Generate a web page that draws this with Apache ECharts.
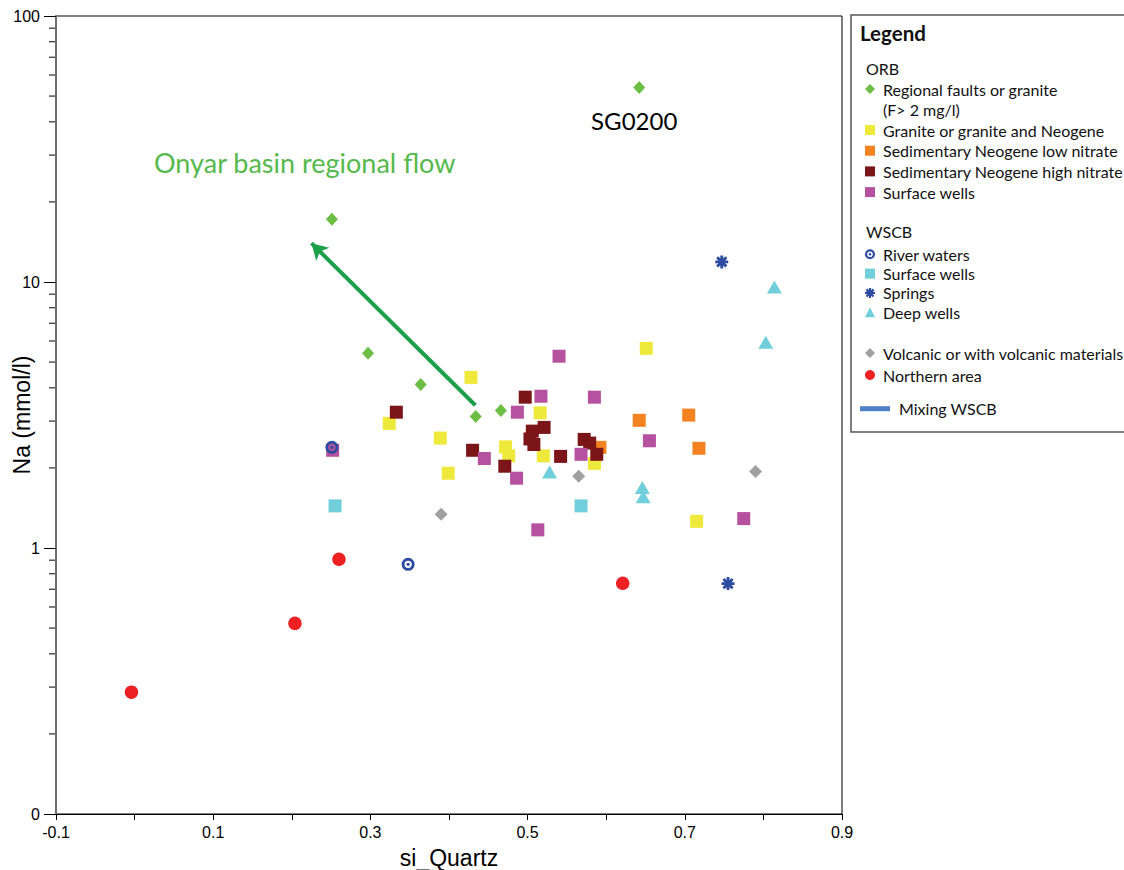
<!DOCTYPE html>
<html>
<head>
<meta charset="utf-8">
<title>Na vs si_Quartz</title>
<script src="https://cdn.jsdelivr.net/npm/echarts@6/dist/echarts.min.js"></script>
<style>
  html, body { margin: 0; padding: 0; background: #fff; }
  #chart { width: 1124px; height: 870px; }
</style>
</head>
<body>
<div id="chart"></div>
<script>
// Samples: [si_Quartz, Na (mmol/l)]
const regionalFaults = [[0.642, 53.8], [0.251, 17.2], [0.297, 5.40], [0.364, 4.12], [0.434, 3.12], [0.466, 3.29]];
const graniteNeogene = [[0.324, 2.94], [0.389, 2.59], [0.399, 1.91], [0.428, 4.38], [0.472, 2.40], [0.476, 2.22],
                        [0.516, 3.22], [0.520, 2.22], [0.585, 2.08], [0.651, 5.63], [0.715, 1.26]];
const sedLowNitrate = [[0.592, 2.39], [0.642, 3.02], [0.705, 3.16], [0.718, 2.37]];
const sedHighNitrate = [[0.333, 3.24], [0.430, 2.33], [0.471, 2.03], [0.497, 3.69], [0.521, 2.84], [0.506, 2.75],
                        [0.503, 2.57], [0.508, 2.45], [0.542, 2.21], [0.572, 2.56], [0.579, 2.48], [0.588, 2.25]];
const orbSurfaceWells = [[0.252, 2.33], [0.445, 2.17], [0.486, 1.83], [0.487, 3.24], [0.517, 3.72], [0.540, 5.26],
                         [0.585, 3.69], [0.568, 2.25], [0.655, 2.53], [0.513, 1.17], [0.775, 1.29]];
const riverWaters = [[0.251, 2.39], [0.348, 0.868]];
const wscbSurfaceWells = [[0.255, 1.44], [0.568, 1.44]];
const springs = [[0.747, 11.9], [0.755, 0.735]];
const deepWells = [[0.528, 1.93], [0.646, 1.69], [0.647, 1.56], [0.803, 5.93], [0.814, 9.58]];
const volcanic = [[0.390, 1.34], [0.565, 1.86], [0.790, 1.94]];
const northernArea = [[-0.004, 0.287], [0.204, 0.521], [0.260, 0.907], [0.621, 0.737]];

// Sample named on the chart (index into regionalFaults)
const namedSample = { index: 0, name: 'SG0200' };

// Regional flow direction arrow: from tail to head
const flowArrow = [[0.4335, 3.44], [0.225, 14.0]];

// Axis ticks
const xTickMin = -0.1, xTickMax = 0.9, xTickStep = 0.1;
const yMajorTicks = [0.1, 1, 10, 100];
const yMajorLabels = ['0', '1', '10', '100'];
const yMinorTicks = [0.2, 0.3, 0.4, 0.5, 0.6, 0.7, 0.8, 0.9, 2, 3, 4, 5, 6, 7, 8, 9, 20, 30, 40, 50, 60, 70, 80, 90];

// Custom marker shapes
const ringDotPath = 'path://M0,50 A50,50 0 1,1 100,50 A50,50 0 1,1 0,50 Z ' +
  'M22,50 A28,28 0 1,0 78,50 A28,28 0 1,0 22,50 Z ' +
  'M37,50 A13,13 0 1,1 63,50 A13,13 0 1,1 37,50 Z';
const asteriskPath = 'path://M0,39 L100,39 L100,61 L0,61 Z M39,0 L61,0 L61,100 L39,100 Z ' +
  'M22.42,6.86 L93.14,77.58 L77.58,93.14 L6.86,22.42 Z ' +
  'M77.58,6.86 L93.14,22.42 L22.42,93.14 L6.86,77.58 Z';

const AXIS_FONT = '"Liberation Sans", Arial, sans-serif';
const TEXT_FONT = 'Lato, "Open Sans", sans-serif';

function scatter(name, data, symbol, size, color) {
  return {
    name, type: 'scatter', data, symbol, symbolSize: size,
    itemStyle: { color, opacity: 1 }, emphasis: { disabled: true }, z: 3
  };
}

const regionalData = regionalFaults.map((p, i) => i === namedSample.index ? {
  value: p,
  label: {
    show: true, formatter: namedSample.name, position: 'bottom', distance: 14, offset: [-5, 0],
    fontFamily: TEXT_FONT, fontSize: 24, color: '#000'
  }
} : p);

const series = [
  Object.assign(scatter('Regional faults or granite', regionalData, 'diamond', [12, 13], '#6dbe45'), {
    markLine: {
      silent: true,
      symbol: ['none', 'arrow'],
      symbolSize: [14, 16],
      label: { show: false },
      lineStyle: { color: '#1ea04b', width: 4, type: 'solid' },
      emphasis: { disabled: true },
      data: [[{ coord: flowArrow[0] }, { coord: flowArrow[1] }]]
    }
  }),
  scatter('Granite or granite and Neogene', graniteNeogene, 'rect', 13, '#efe93c'),
  scatter('Sedimentary Neogene low nitrate', sedLowNitrate, 'rect', 13, '#f58220'),
  scatter('Sedimentary Neogene high nitrate', sedHighNitrate, 'rect', 13, '#7b1518'),
  scatter('Surface wells (ORB)', orbSurfaceWells, 'rect', 13, '#b5519e'),
  scatter('Surface wells (WSCB)', wscbSurfaceWells, 'rect', 13, '#71cedb'),
  scatter('River waters', riverWaters, ringDotPath, 13, '#2d4ba0'),
  scatter('Springs', springs, asteriskPath, 13, '#2d4ba0'),
  scatter('Deep wells', deepWells, 'triangle', [15, 13], '#71cedb'),
  scatter('Volcanic or with volcanic materials', volcanic, 'diamond', 13, '#a0a0a0'),
  scatter('Northern area', northernArea, 'circle', 13.5, '#ed2024'),
  {
    name: 'Mixing WSCB', type: 'line', data: [], showSymbol: false,
    itemStyle: { color: '#4f81c7' }, lineStyle: { color: '#4f81c7', width: 5 }
  },
  {
    // minor ticks of the log axis at 2..9 within each decade
    type: 'custom', silent: true, clip: false, z: 5,
    data: yMinorTicks.map(v => [xTickMin, v]),
    renderItem: (params, api) => {
      const p = api.coord([api.value(0), api.value(1)]);
      return {
        type: 'line',
        shape: { x1: p[0] - 7, y1: p[1], x2: p[0] - 1, y2: p[1] },
        style: { stroke: '#000', lineWidth: 1 }
      };
    }
  }
];

const legendText = { fontFamily: TEXT_FONT, fontSize: 16, color: '#111', lineHeight: 16, padding: [0, 0, 0, 3] };
const stripGroup = n => n.replace(/ \((ORB|WSCB)\)$/, '');
function legendBlock(names, top, gap, extra) {
  return Object.assign({
    orient: 'vertical', left: 865, top, itemGap: gap, padding: 0,
    itemWidth: 10, itemHeight: 10, selectedMode: false,
    data: names, formatter: stripGroup, textStyle: legendText
  }, extra || {});
}

const headerStyle = (text, size, weight) => ({
  text, fontFamily: TEXT_FONT, fontSize: size, fontWeight: weight || 'normal', fill: '#111',
  align: 'left', verticalAlign: 'middle', textAlign: 'left', textVerticalAlign: 'middle'
});

const option = {
  backgroundColor: '#fff',
  animation: false,
  grid: {
    left: 56, top: 16, width: 786, height: 798,
    show: true, borderColor: '#000', borderWidth: 1, backgroundColor: 'transparent',
    containLabel: false, outerBoundsMode: 'none'
  },
  xAxis: {
    type: 'value', min: xTickMin, max: xTickMax, interval: xTickStep,
    name: 'si_Quartz', nameLocation: 'middle', nameGap: 32, nameMoveOverlap: false,
    nameTextStyle: { fontFamily: AXIS_FONT, fontSize: 23, color: '#000' },
    axisLine: { onZero: false, lineStyle: { color: '#000', width: 1 } },
    axisTick: { inside: false, length: 6, lineStyle: { color: '#000' } },
    axisLabel: {
      margin: 10, fontFamily: AXIS_FONT, fontSize: 16, color: '#000', hideOverlap: false,
      formatter: v => {
        const k = Math.round(v / xTickStep);
        return Math.abs(k) % 2 === 1 ? (k * xTickStep).toFixed(1) : '';
      }
    },
    splitLine: { show: false }
  },
  yAxis: {
    type: 'log', logBase: 10, min: yMajorTicks[0], max: yMajorTicks[yMajorTicks.length - 1], splitNumber: 3,
    name: 'Na (mmol/l)', nameLocation: 'middle', nameGap: 23, nameMoveOverlap: false,
    nameTextStyle: { fontFamily: AXIS_FONT, fontSize: 23, color: '#000' },
    axisLine: { onZero: false, lineStyle: { color: '#6e6e6e', width: 2 } },
    axisTick: { inside: false, length: 12, lineStyle: { color: '#000', width: 1 } },
    minorTick: { show: false },
    axisLabel: {
      margin: 16, fontFamily: AXIS_FONT, fontSize: 16, color: '#000', hideOverlap: false,
      formatter: v => {
        const i = yMajorTicks.findIndex(t => Math.abs(Math.log10(t) - Math.log10(v)) < 1e-6);
        return i >= 0 ? yMajorLabels[i] : '';
      }
    },
    splitLine: { show: false }
  },
  legend: [
    legendBlock(['Regional faults or granite'], 81, 0),
    legendBlock(['Granite or granite and Neogene', 'Sedimentary Neogene low nitrate',
                 'Sedimentary Neogene high nitrate', 'Surface wells (ORB)'], 122, 4.7),
    legendBlock(['River waters', 'Surface wells (WSCB)', 'Springs', 'Deep wells'], 246.3, 3.3),
    legendBlock(['Volcanic or with volcanic materials', 'Northern area'], 345, 6),
    legendBlock([{ name: 'Mixing WSCB', icon: 'rect' }], 400.7, 0,
      { left: 860, itemWidth: 30, itemHeight: 5, textStyle: Object.assign({}, legendText, { padding: [0, 0, 0, 4] }) })
  ],
  graphic: [
    {
      type: 'rect', z: -10, silent: true,
      shape: { x: 851, y: 15, width: 330, height: 417 },
      style: { fill: '#fff', stroke: '#555', lineWidth: 1.5 }
    },
    { type: 'text', x: 860, y: 33, silent: true, style: headerStyle('Legend', 20.5, 'bold') },
    { type: 'text', x: 866, y: 68, silent: true, style: headerStyle('ORB', 16) },
    { type: 'text', x: 883, y: 109, silent: true, style: headerStyle('(F> 2 mg/l)', 16) },
    { type: 'text', x: 866, y: 231, silent: true, style: headerStyle('WSCB', 16) },
    {
      type: 'text', x: 154, y: 162, silent: true,
      style: Object.assign(headerStyle('Onyar basin regional flow', 27), { fill: '#55b94c' })
    }
  ],
  series
};

const chart = echarts.init(document.getElementById('chart'), null, { renderer: 'svg', width: 1124, height: 870 });
chart.setOption(option);
</script>
</body>
</html>
